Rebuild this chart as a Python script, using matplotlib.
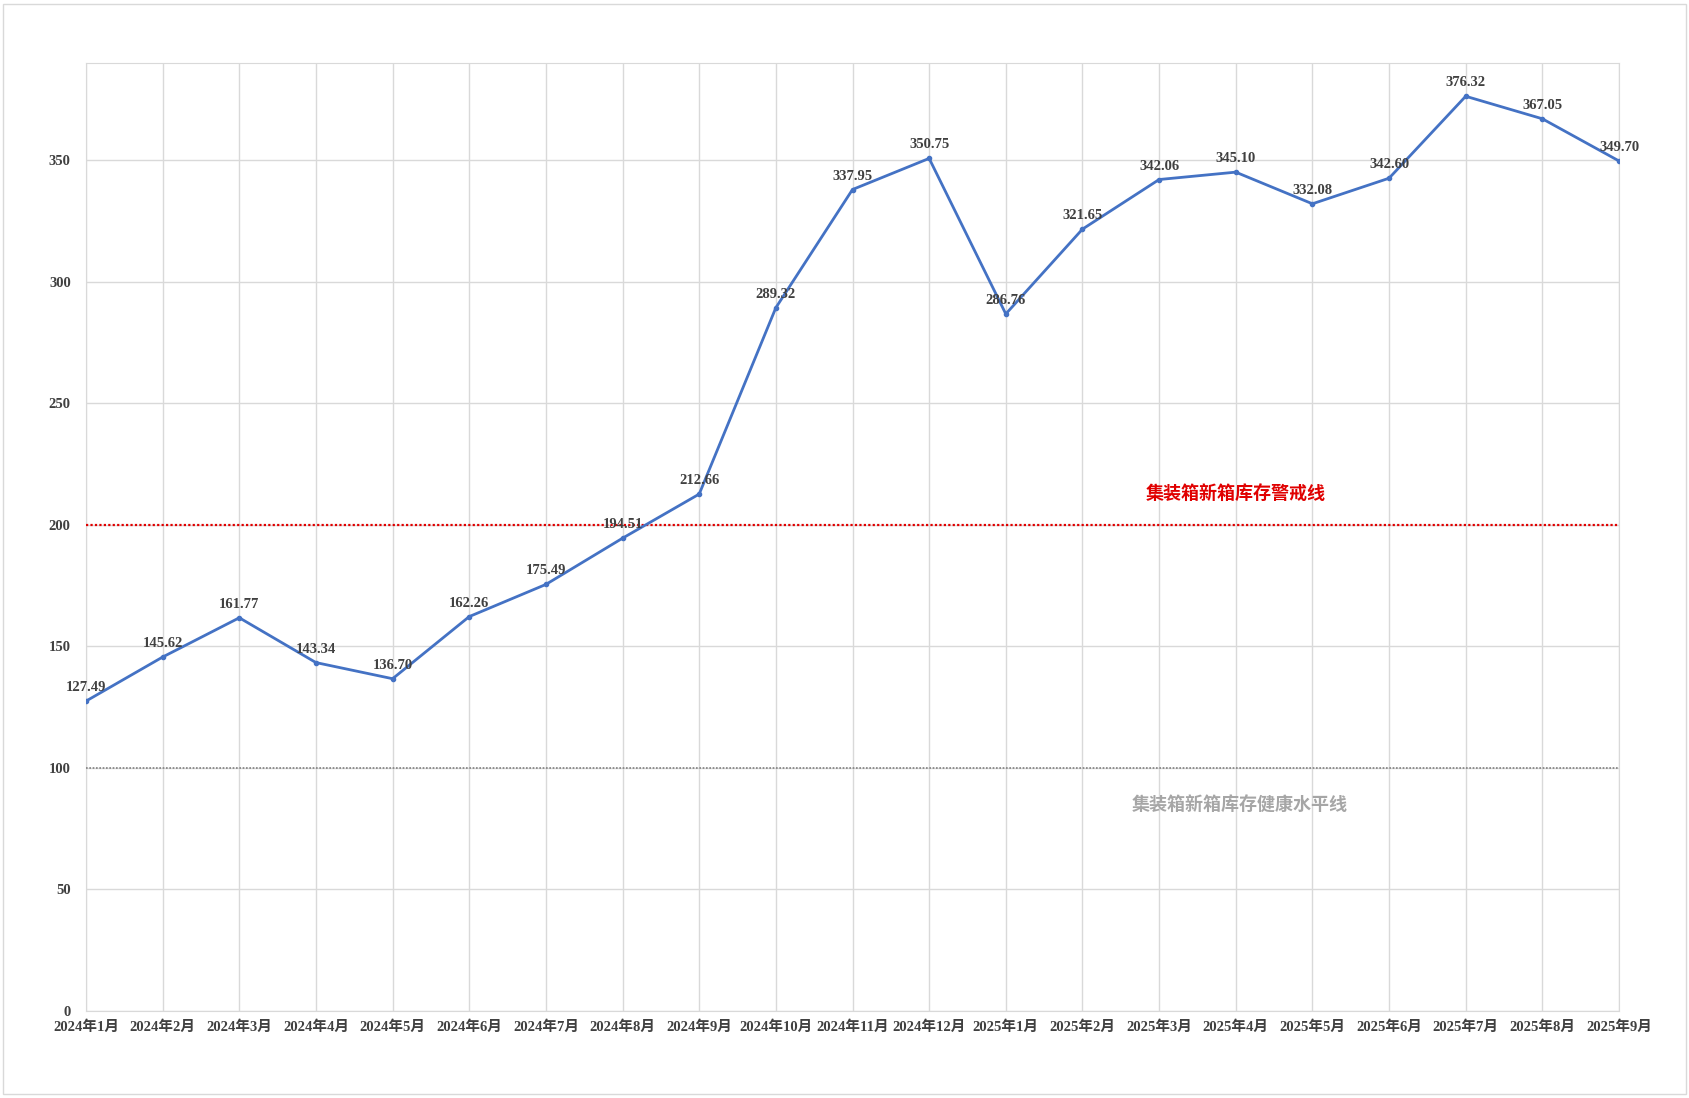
import matplotlib.pyplot as plt
from matplotlib.patches import Rectangle

months = ['2024年1月', '2024年2月', '2024年3月', '2024年4月', '2024年5月', '2024年6月',
          '2024年7月', '2024年8月', '2024年9月', '2024年10月', '2024年11月', '2024年12月',
          '2025年1月', '2025年2月', '2025年3月', '2025年4月', '2025年5月', '2025年6月',
          '2025年7月', '2025年8月', '2025年9月']
values = [127.49, 145.62, 161.77, 143.34, 136.70, 162.26, 175.49, 194.51, 212.66, 289.32,
          337.95, 350.75, 286.76, 321.65, 342.06, 345.10, 332.08, 342.60, 376.32, 367.05, 349.70]
warn_level = 200
health_level = 100
warn_text = '集装箱新箱库存警戒线'
health_text = '集装箱新箱库存健康水平线'
yticks = [0, 50, 100, 150, 200, 250, 300, 350]

serif = ['Liberation Serif', 'Noto Sans CJK SC']

fig = plt.figure(figsize=(16.89, 10.98), dpi=100)
# outer chart border
fig.patches.append(Rectangle((3 / 1689, 4 / 1098), 1683 / 1689, 1090 / 1098,
                             transform=fig.transFigure, fill=False,
                             edgecolor='#d9d9d9', linewidth=1))
ax = fig.add_axes([86 / 1689, 1 - 1011 / 1098, (1619 - 86) / 1689, (1011 - 63) / 1098])

x = list(range(len(months)))
ax.plot(x, values, color='#4472C4', linewidth=2, marker='o', markersize=3, zorder=5)

ax.axhline(warn_level, color='#e00000', linestyle=(0, (1, 1)), linewidth=1.6, zorder=4)
ax.axhline(health_level, color='#808080', linestyle=(0, (1, 1)), linewidth=1.2, zorder=4)

for xi, v in zip(x, values):
    ax.annotate(f'{v:.2f}', (xi, v), xytext=(0, 5), textcoords='offset points',
                ha='center', va='bottom', fontsize=10.5, fontweight='bold',
                color='#404040', family=serif, zorder=6)

ax.text(15.0, 213, warn_text, ha='center', va='center', fontsize=13,
        fontweight='bold', color='#e00000', family=['Noto Sans CJK SC'])
ax.text(15.05, 85, health_text, ha='center', va='center', fontsize=13,
        fontweight='bold', color='#a6a6a6', family=['Noto Sans CJK SC'])

ax.set_xlim(0, len(months) - 1)
ax.set_ylim(0, 390)
ax.set_xticks(x)
ax.set_xticklabels(months)
ax.set_yticks(yticks)
ax.grid(True, color='#d9d9d9', linewidth=1)
ax.set_axisbelow(True)
for s in ax.spines.values():
    s.set_color('#d9d9d9')
ax.tick_params(length=0, labelcolor='#404040')
for lab in ax.get_xticklabels() + ax.get_yticklabels():
    lab.set_family(serif)
    lab.set_fontweight('bold')
    lab.set_fontsize(10.5)
ax.tick_params(axis='x', pad=7)
ax.tick_params(axis='y', pad=11)

fig.savefig('out.png', dpi=100)
